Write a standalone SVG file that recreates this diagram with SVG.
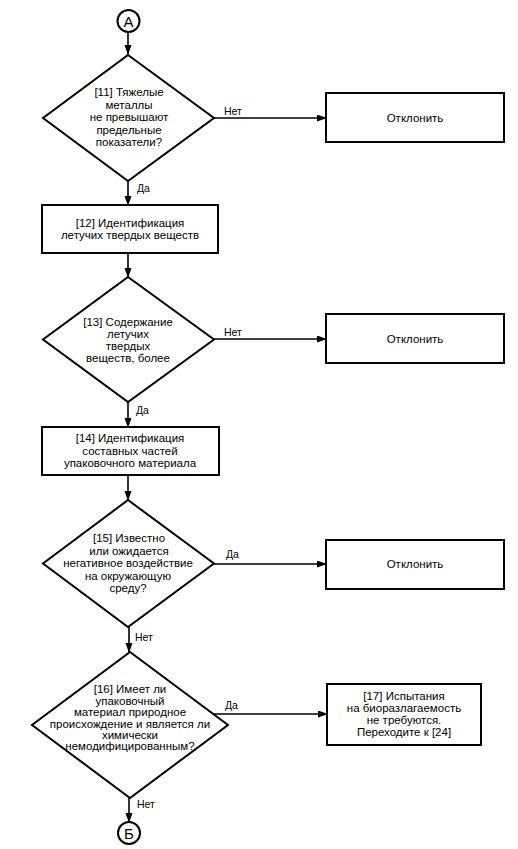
<svg xmlns="http://www.w3.org/2000/svg" width="518" height="849" viewBox="0 0 518 849">
<style>
.shape{fill:#fff;stroke:#000;stroke-width:2}
.t{font-family:"Liberation Sans",Arial,sans-serif;font-size:11.5px;fill:#000;text-anchor:middle}
.lb{font-family:"Liberation Sans",Arial,sans-serif;font-size:10.5px;fill:#000}
.cl{font-family:"Liberation Sans",Arial,sans-serif;font-size:15px;fill:#000;text-anchor:middle}
.c{fill:none;stroke:#000;stroke-width:1.6}
</style>
<defs>
<marker id="ah" markerUnits="userSpaceOnUse" markerWidth="10" markerHeight="8" refX="9" refY="3.5" orient="auto">
<path d="M0,0 L10,3.5 L0,7 z" fill="#000"/>
</marker>
</defs>
<rect width="518" height="849" fill="#fff"/>
<g id="connectors">
<line class="c" x1="128" y1="32" x2="128" y2="54" marker-end="url(#ah)"/>
<line class="c" x1="214" y1="118" x2="326" y2="118" marker-end="url(#ah)"/>
<line class="c" x1="128" y1="181" x2="128" y2="205" marker-end="url(#ah)"/>
<line class="c" x1="128" y1="253" x2="128" y2="277" marker-end="url(#ah)"/>
<line class="c" x1="214" y1="339" x2="326" y2="339" marker-end="url(#ah)"/>
<line class="c" x1="128" y1="402" x2="128" y2="427" marker-end="url(#ah)"/>
<line class="c" x1="128" y1="475" x2="128" y2="500" marker-end="url(#ah)"/>
<line class="c" x1="214" y1="564" x2="326" y2="564" marker-end="url(#ah)"/>
<line class="c" x1="129" y1="627" x2="129" y2="652" marker-end="url(#ah)"/>
<line class="c" x1="214" y1="714" x2="327" y2="714" marker-end="url(#ah)"/>
<line class="c" x1="129" y1="798" x2="129" y2="822" marker-end="url(#ah)"/>
<text class="lb" x="224" y="115">Нет</text>
<text class="lb" x="137" y="192">Да</text>
<text class="lb" x="224" y="336">Нет</text>
<text class="lb" x="136" y="414">Да</text>
<text class="lb" x="226" y="558">Да</text>
<text class="lb" x="135" y="641">Нет</text>
<text class="lb" x="225" y="709">Да</text>
<text class="lb" x="137" y="808">Нет</text>
</g>
<g id="startA">
<circle class="shape" cx="128.5" cy="21" r="11"/>
<text class="cl" x="128.5" y="26.5">А</text>
</g>
<g id="d11">
<polygon class="shape" points="128,55 214,118 128,181 43,118"/>
<text class="t" x="129" y="96">[11] Тяжелые</text>
<text class="t" x="129" y="108.5">металлы</text>
<text class="t" x="129" y="121">не превышают</text>
<text class="t" x="129" y="133.5">предельные</text>
<text class="t" x="129" y="146">показатели?</text>
</g>
<g id="reject1">
<rect class="shape" x="326" y="93" width="178" height="49"/>
<text class="t" x="415" y="122">Отклонить</text>
</g>
<g id="b12">
<rect class="shape" x="42" y="205" width="176" height="48"/>
<text class="t" x="130" y="227">[12] Идентификация</text>
<text class="t" x="130" y="239">летучих твердых веществ</text>
</g>
<g id="d13">
<polygon class="shape" points="128,277 214,339.5 128,402 43,339.5"/>
<text class="t" x="128" y="325.5">[13] Содержание</text>
<text class="t" x="128" y="337.5">летучих</text>
<text class="t" x="128" y="349.5">твердых</text>
<text class="t" x="128" y="361.5">веществ, более</text>
</g>
<g id="reject2">
<rect class="shape" x="326" y="314" width="178" height="49"/>
<text class="t" x="415" y="343">Отклонить</text>
</g>
<g id="b14">
<rect class="shape" x="42" y="427" width="177" height="48"/>
<text class="t" x="130" y="442">[14] Идентификация</text>
<text class="t" x="130" y="454.5">составных частей</text>
<text class="t" x="130" y="467">упаковочного материала</text>
</g>
<g id="d15">
<polygon class="shape" points="128,500 214,563.5 128,627 43,563.5"/>
<text class="t" x="129" y="542">[15] Известно</text>
<text class="t" x="129" y="554.5">или ожидается</text>
<text class="t" x="128" y="567">негативное воздействие</text>
<text class="t" x="128" y="579.5">на окружающую</text>
<text class="t" x="128" y="592">среду?</text>
</g>
<g id="reject3">
<rect class="shape" x="326" y="540" width="178" height="49"/>
<text class="t" x="415" y="568">Отклонить</text>
</g>
<g id="d16">
<polygon class="shape" points="130,652 228,725 130,798 32,725"/>
<text class="t" x="130" y="693">[16] Имеет ли</text>
<text class="t" x="130" y="704.5">упаковочный</text>
<text class="t" x="130" y="716">материал природное</text>
<text class="t" x="130" y="727.5">происхождение и является ли</text>
<text class="t" x="130" y="739">химически</text>
<text class="t" x="130" y="750">немодифицированным?</text>
</g>
<g id="b17">
<rect class="shape" x="327" y="684" width="154" height="61"/>
<text class="t" x="404" y="700">[17] Испытания</text>
<text class="t" x="404" y="712">на биоразлагаемость</text>
<text class="t" x="404" y="724">не требуются.</text>
<text class="t" x="404" y="736">Переходите к [24]</text>
</g>
<g id="endB">
<circle class="shape" cx="129" cy="833" r="11"/>
<text class="cl" x="129" y="838.5">Б</text>
</g>
</svg>
